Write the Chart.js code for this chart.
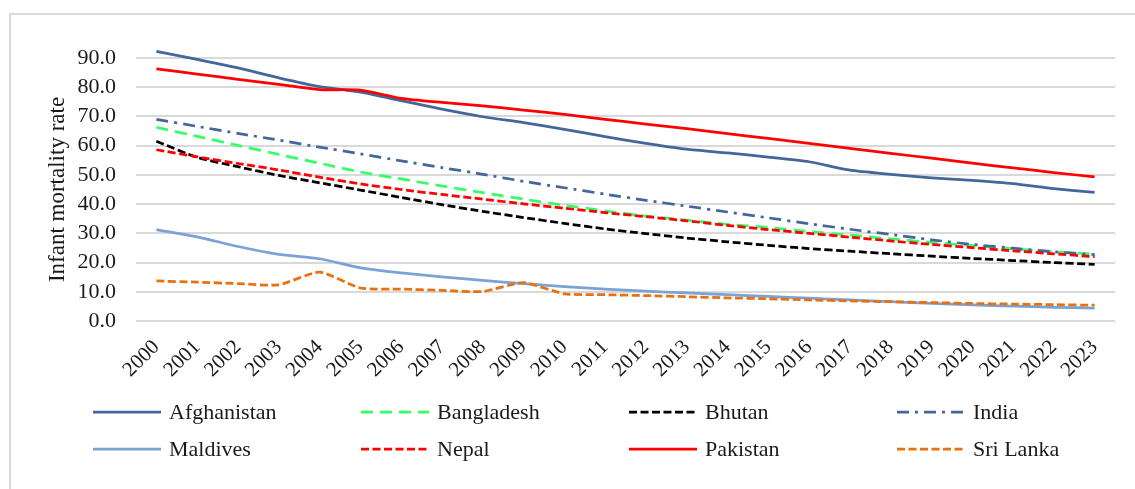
<!DOCTYPE html>
<html>
<head>
<meta charset="utf-8">
<script src="https://cdn.jsdelivr.net/npm/chart.js@4/dist/chart.umd.min.js"></script>
<style>
  html, body { margin: 0; padding: 0; background: #ffffff; }
  #wrap { position: relative; width: 1135px; height: 489px; overflow: hidden; }
  canvas { position: absolute; left: 0; top: 0; }
</style>
</head>
<body>
<div id="wrap"><canvas id="chart" width="1135" height="489"></canvas></div>
<script>
// Infant mortality rate (per 1,000 live births), South Asia, 2000–2023
const years = ['2000','2001','2002','2003','2004','2005','2006','2007','2008','2009','2010','2011',
               '2012','2013','2014','2015','2016','2017','2018','2019','2020','2021','2022','2023'];

const countries = ['Afghanistan', 'Bangladesh', 'Bhutan', 'India', 'Maldives', 'Nepal', 'Pakistan', 'Sri Lanka'];

const afghanistan = [92.3, 89.5, 86.6, 83.2, 80.2, 78.3, 75.4, 72.5, 69.9, 67.9, 65.6, 63.1,
                     60.8, 58.8, 57.5, 56.1, 54.5, 51.6, 50.2, 49.0, 48.1, 47.0, 45.3, 44.0];
const bangladesh  = [66.3, 63.2, 60.1, 57.0, 54.0, 51.0, 48.6, 46.2, 43.9, 41.7, 39.6, 37.7,
                     35.9, 34.5, 33.1, 32.0, 30.6, 29.4, 28.1, 26.9, 25.8, 24.7, 23.7, 22.9];
const bhutan      = [61.5, 56.0, 52.8, 49.8, 47.3, 44.8, 42.3, 39.8, 37.5, 35.4, 33.4, 31.5,
                     29.9, 28.4, 27.1, 25.9, 24.8, 23.9, 23.0, 22.2, 21.4, 20.7, 20.0, 19.4];
const india       = [69.0, 66.6, 64.2, 61.9, 59.5, 57.2, 54.8, 52.5, 50.2, 47.8, 45.6, 43.4,
                     41.3, 39.3, 37.3, 35.3, 33.3, 31.4, 29.6, 27.8, 26.2, 24.9, 23.7, 22.7];
const maldives    = [31.3, 28.8, 25.5, 22.8, 21.3, 18.2, 16.5, 15.1, 13.9, 12.8, 11.8, 10.9,
                     10.2, 9.6, 9.0, 8.4, 7.8, 7.2, 6.6, 6.0, 5.5, 5.1, 4.7, 4.4];
const nepal       = [58.6, 56.2, 53.9, 51.7, 49.2, 46.9, 45.0, 43.3, 41.7, 40.1, 38.6, 37.1,
                     35.7, 34.3, 32.7, 31.3, 30.0, 28.7, 27.4, 26.2, 25.1, 24.0, 23.0, 22.0];
const pakistan    = [86.3, 84.5, 82.7, 81.0, 79.2, 79.0, 76.2, 74.8, 73.6, 72.2, 70.7, 69.0,
                     67.4, 65.8, 64.1, 62.5, 60.8, 59.1, 57.4, 55.7, 54.0, 52.4, 50.8, 49.3];
const sriLanka    = [13.7, 13.3, 12.8, 12.4, 16.7, 11.3, 10.9, 10.5, 10.1, 13.1, 9.3, 9.0,
                     8.7, 8.3, 7.9, 7.6, 7.2, 6.9, 6.6, 6.3, 6.0, 5.8, 5.6, 5.4];

const yTicks = [0, 10, 20, 30, 40, 50, 60, 70, 80, 90];

const seriesValues = [afghanistan, bangladesh, bhutan, india, maldives, nepal, pakistan, sriLanka];

// line styles per country
const lineColors = ['#43679b', '#33ff66', '#000000', '#43679b', '#7ba2d6', '#ff0000', '#ff0000', '#e8710f'];
const lineDashes = [[], [12, 7], [8, 3.5], [12, 6, 3, 6], [], [8, 3.5], [], [8, 3.5]];

const FONT = '"Liberation Serif", "Times New Roman", serif';
const TEXT = '#1a1a1a';

const datasets = countries.map((name, i) => ({
  label: name,
  data: seriesValues[i],
  borderColor: lineColors[i],
  backgroundColor: lineColors[i],
  borderDash: lineDashes[i],
  borderWidth: 2.75,
  borderCapStyle: 'butt',
  pointRadius: 0,
  pointHoverRadius: 0,
  tension: 0.2,
  fill: false,
  clip: false,
  order: countries.length - i
}));

// light grey frame around the chart
const framePlugin = {
  id: 'frame',
  beforeDraw(chart) {
    const ctx = chart.ctx;
    ctx.save();
    ctx.strokeStyle = '#d9d9d9';
    ctx.lineWidth = 2;
    ctx.strokeRect(10, 14, 1300, 600);
    ctx.restore();
  }
};

// two-row, four-column legend under the axis
const gridLegend = {
  id: 'gridLegend',
  afterDraw(chart) {
    const ctx = chart.ctx;
    const colX = [93, 361, 629, 897];
    const rowY = [412, 449];
    const sample = 68;
    ctx.save();
    chart.data.datasets.forEach((ds, i) => {
      const x = colX[i % 4];
      const y = rowY[Math.floor(i / 4)];
      ctx.beginPath();
      ctx.setLineDash(ds.borderDash || []);
      ctx.lineCap = 'butt';
      ctx.strokeStyle = ds.borderColor;
      ctx.lineWidth = ds.borderWidth;
      ctx.moveTo(x, y);
      ctx.lineTo(x + sample, y);
      ctx.stroke();
      ctx.setLineDash([]);
      ctx.fillStyle = TEXT;
      ctx.font = '22px ' + FONT;
      ctx.textAlign = 'left';
      ctx.textBaseline = 'middle';
      ctx.fillText(ds.label, x + 76, y + 1);
    });
    ctx.restore();
  }
};

new Chart(document.getElementById('chart'), {
  type: 'line',
  data: { labels: years, datasets },
  plugins: [framePlugin, gridLegend],
  options: {
    responsive: false,
    devicePixelRatio: 1,
    animation: false,
    events: [],
    layout: { padding: { left: 34, right: 20, top: 58, bottom: 68 } },
    plugins: {
      legend: { display: false },
      tooltip: { enabled: false },
      title: { display: false }
    },
    scales: {
      x: {
        type: 'category',
        offset: true,
        grid: { display: false, drawTicks: false },
        border: { display: false },
        ticks: {
          autoSkip: false,
          minRotation: 45,
          maxRotation: 45,
          padding: 14,
          color: TEXT,
          font: { family: FONT, size: 21 }
        },
        afterFit(scale) { scale.height = 100; }
      },
      y: {
        min: 0,
        max: 90,
        afterBuildTicks(scale) { scale.ticks = yTicks.map(v => ({ value: v })); },
        grid: { color: '#d9d9d9', lineWidth: 2, drawTicks: false },
        border: { display: false },
        ticks: {
          autoSkip: false,
          padding: 20,
          color: TEXT,
          font: { family: FONT, size: 22 },
          callback: v => Number(v).toFixed(1)
        },
        title: {
          display: true,
          text: 'Infant mortality rate',
          color: TEXT,
          font: { family: FONT, size: 23 },
          padding: { top: 10, bottom: 0 }
        },
        afterFit(scale) { scale.width = 136 - 34; }
      }
    }
  }
});
</script>
</body>
</html>
